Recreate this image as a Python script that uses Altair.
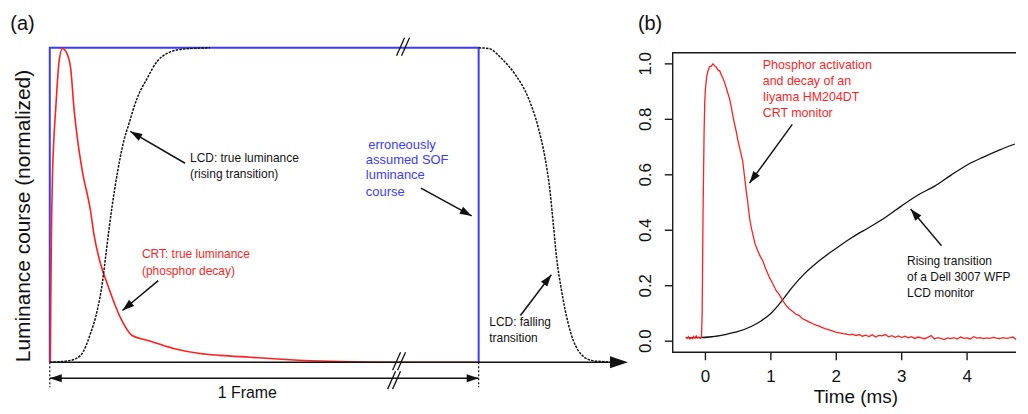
import math
import altair as alt
import pandas as pd

FONT = "Arial, Liberation Sans, Helvetica, sans-serif"
RED = "#ff1f1f"
BLUE = "#3b3bff"
BLACK = "#111111"
AXIS = "#222222"

# ---------------- panel (a): schematic (x in frames, y normalized) ----------------
crt_a_x = [0.0012, 0.0023, 0.0035, 0.0046, 0.0063, 0.0093, 0.0139, 0.0216, 0.0295, 0.0390,
           0.0487, 0.0564, 0.0643, 0.0759, 0.0951, 0.1028, 0.1183, 0.1339, 0.1647, 0.1919,
           0.2267, 0.2884, 0.3503, 0.3968, 0.4664, 0.5500, 0.6520, 0.8140, 1.0000]
crt_a_y = [0.000, 0.196, 0.354, 0.481, 0.598, 0.703, 0.807, 0.956, 0.998, 0.985,
           0.935, 0.808, 0.713, 0.608, 0.481, 0.408, 0.313, 0.250, 0.142, 0.085,
           0.070, 0.044, 0.028, 0.022, 0.016, 0.009, 0.003, 0.000, 0.000]

lcd_rise_x = [0.0000, 0.0487, 0.0719, 0.0951, 0.1107, 0.1223, 0.1299, 0.1376, 0.1455,
              0.1571, 0.1724, 0.1840, 0.2035, 0.2267, 0.2499, 0.2731, 0.3116, 0.3735]
lcd_rise_y = [0.000, 0.006, 0.022, 0.092, 0.165, 0.250, 0.332, 0.418, 0.497,
              0.598, 0.703, 0.756, 0.839, 0.902, 0.956, 0.982, 0.996, 1.000]

lcd_fall_x = [1.0000, 1.0232, 1.0534, 1.0852, 1.1160, 1.1392, 1.1548, 1.1664, 1.1740,
              1.1817, 1.1933, 1.2088, 1.2320, 1.2629, 1.3016]
lcd_fall_y = [1.000, 0.998, 0.966, 0.915, 0.840, 0.745, 0.650, 0.544, 0.440,
              0.333, 0.228, 0.123, 0.038, 0.006, 0.001]

sof_x = [0, 0, 1, 1]
sof_y = [0, 1, 1, 0]

ta_x = [0.327, 0.327, 0.215, 0.215, 0.7425, 0.737, 0.737, 0.737, 1.0248, 1.0248]
ta_y = [0.649, 0.598, 0.344, 0.291, 0.692, 0.642, 0.594, 0.542, 0.1275, 0.0781]
ta_t = ["LCD: true luminance", "(rising transition)",
        "CRT: true luminance", "(phosphor decay)",
        "erroneously", "assumed SOF", "luminance", "course",
        "LCD: falling", "transition"]
ta_c = [BLACK, BLACK, RED, RED, BLUE, BLUE, BLUE, BLUE, BLACK, BLACK]
ta_s = [12, 12, 12, 12, 13, 13, 13, 13, 12, 12]

# annotation arrows (tail -> head)
arr_a = [(0.3155, 0.6329, 0.1879, 0.7342),
         (0.2529, 0.2595, 0.1694, 0.1646),
         (0.8654, 0.5538, 0.9838, 0.4652),
         (1.0974, 0.1487, 1.1694, 0.2785)]

frame_y = -0.0506
tick_bottom = -0.0797
axis_end = 1.348
break_cx = [0.8237, 0.8144, 0.8028]
break_cy = [1.0032, 0.0032, -0.0570]

# ---------------- panel (b): measurements ----------------
crt_b_t = [-0.30, -0.28, -0.26, -0.24, -0.22, -0.20, -0.18, -0.16, -0.14, -0.12, -0.10, -0.08,
           -0.06, -0.05, -0.036, -0.02, -0.01, 0.00, 0.02, 0.04, 0.065, 0.09, 0.115, 0.14,
           0.167, 0.19, 0.218, 0.24, 0.268, 0.29, 0.32, 0.345, 0.37, 0.40, 0.43, 0.47, 0.50,
           0.53, 0.57, 0.60, 0.624, 0.645, 0.674, 0.70, 0.724, 0.76, 0.80, 0.84, 0.876, 0.92,
           0.978, 1.03, 1.08, 1.13, 1.18, 1.23, 1.28, 1.33, 1.38, 1.43, 1.48, 1.53, 1.59, 1.64,
           1.69, 1.74, 1.79, 1.84, 1.89, 1.94, 1.99, 2.05, 2.10, 2.15, 2.20, 2.245,
           2.30, 2.35, 2.40, 2.45, 2.50, 2.55, 2.60, 2.65, 2.70, 2.75, 2.80, 2.85, 2.90, 2.95,
           3.00, 3.05, 3.10, 3.15, 3.20, 3.25, 3.30, 3.35, 3.40, 3.45, 3.50, 3.55, 3.60, 3.65,
           3.70, 3.75, 3.80, 3.85, 3.90, 3.95, 4.00, 4.05, 4.10, 4.15, 4.20, 4.25, 4.30, 4.35,
           4.40, 4.45, 4.50, 4.55, 4.60, 4.65, 4.70, 4.75]
crt_b_y = [0.014, 0.010, 0.016, 0.008, 0.013, 0.009, 0.017, 0.011, 0.019, 0.012, 0.015, 0.010,
           0.014, 0.100, 0.470, 0.760, 0.864, 0.910, 0.955, 0.975, 0.990, 0.992, 1.000, 0.993,
           0.988, 0.978, 0.975, 0.962, 0.948, 0.935, 0.912, 0.892, 0.874, 0.838, 0.800, 0.757,
           0.720, 0.690, 0.649, 0.590, 0.540, 0.505, 0.446, 0.410, 0.386, 0.350, 0.326, 0.305,
           0.290, 0.262, 0.230, 0.207, 0.183, 0.168, 0.147, 0.130, 0.117, 0.108, 0.098, 0.093,
           0.082, 0.076, 0.069, 0.063, 0.058, 0.054, 0.049, 0.044, 0.041, 0.037, 0.033, 0.030,
           0.027, 0.026, 0.023, 0.025,
           0.020, 0.024, 0.018, 0.022, 0.017, 0.023, 0.015, 0.021, 0.019, 0.024, 0.016, 0.020,
           0.014, 0.019, 0.013, 0.018, 0.012, 0.016, 0.010, 0.015, 0.012, 0.009, 0.014, 0.020,
           0.008, 0.013, 0.010, 0.006, 0.012, 0.009, 0.013, 0.008, 0.015, 0.010, 0.012, 0.008,
           0.016, 0.011, 0.013, 0.009, 0.012, 0.010, 0.014, 0.011, 0.009, 0.013, 0.010, 0.012,
           0.015, 0.006]

lcd_b_t = [-0.30, -0.10, 0.10, 0.30, 0.50, 0.70, 0.85, 1.00, 1.15, 1.33, 1.50, 1.74, 2.00,
           2.24, 2.50, 2.75, 3.00, 3.25, 3.51, 3.75, 4.02, 4.25, 4.50, 4.73]
lcd_b_y = [0.013, 0.013, 0.016, 0.024, 0.035, 0.053, 0.073, 0.100, 0.140, 0.195, 0.240, 0.290,
           0.335, 0.374, 0.410, 0.446, 0.488, 0.527, 0.560, 0.598, 0.638, 0.664, 0.690, 0.711]

x_ticks_b = [0, 1, 2, 3, 4]
y_ticks_b = [0.0, 0.2, 0.4, 0.6, 0.8, 1.0]
x_title_b = "Time (ms)"
x_title_pos = 2.3

tb_x = [0.876, 0.876, 0.876, 0.876, 3.082, 3.082, 3.082]
tb_y = [0.996, 0.9385, 0.8796, 0.8222, 0.2876, 0.2302, 0.1742]
tb_t = ["Phosphor activation", "and decay of an", "Iiyama HM204DT", "CRT monitor",
        "Rising transition", "of a Dell 3007 WFP", "LCD monitor"]
tb_c = [RED, RED, RED, RED, BLACK, BLACK, BLACK]
tb_s = [12.5, 12.5, 12.5, 12.5, 12, 12, 12]

arr_b = [(1.328, 0.7817, 0.674, 0.570),
         (3.609, 0.3439, 3.137, 0.4767)]

label_b_x = -1.032
label_b_y = 1.1807
spacer_b_y = 1.1871

# ---------------- layout ----------------
A_W, A_H = 623, 352
A_XD = [-0.0951, 1.3504]
A_YD = [-0.1297, 0.9842]
B_W, B_H = 345, 301
B_XD = [-0.5, 4.748]
B_YD = [-0.04, 1.04]
TICK = 8
LW = 1.4

sxa = A_W / (A_XD[1] - A_XD[0])
sya = A_H / (A_YD[1] - A_YD[0])
sxb = B_W / (B_XD[1] - B_XD[0])
syb = B_H / (B_YD[1] - B_YD[0])

HEAD = "M0,0L-0.4,1.2L0.4,1.2Z"


def ang(x0, y0, x1, y1, sx, sy):
    dx = (x1 - x0) * sx
    dy = -(y1 - y0) * sy
    return math.degrees(math.atan2(dx, -dy)) % 360


def XA(f="x"):
    return alt.X(f"{f}:Q", scale=alt.Scale(domain=A_XD, nice=False, zero=False), axis=None)


def YA(f="y"):
    return alt.Y(f"{f}:Q", scale=alt.Scale(domain=A_YD, nice=False, zero=False), axis=None)


def XB(f="x"):
    return alt.X(f"{f}:Q", scale=alt.Scale(domain=B_XD, nice=False, zero=False), axis=None)


def YB(f="y"):
    return alt.Y(f"{f}:Q", scale=alt.Scale(domain=B_YD, nice=False, zero=False), axis=None)


# ---- panel (a) layers ----
sof = alt.Chart(pd.DataFrame({"x": sof_x, "y": sof_y, "o": range(len(sof_x))})).mark_line(
    color=BLUE, strokeWidth=2).encode(x=XA(), y=YA(), order="o:Q")

crt_a = alt.Chart(pd.DataFrame({"x": crt_a_x, "y": crt_a_y})).mark_line(
    color=RED, strokeWidth=1.6, interpolate="monotone").encode(x=XA(), y=YA())

rise_a = alt.Chart(pd.DataFrame({"x": lcd_rise_x, "y": lcd_rise_y})).mark_line(
    color=BLACK, strokeWidth=1.5, strokeDash=[2.5, 1.2], interpolate="monotone").encode(x=XA(), y=YA())

fall_a = alt.Chart(pd.DataFrame({"x": lcd_fall_x, "y": lcd_fall_y})).mark_line(
    color=BLACK, strokeWidth=1.5, strokeDash=[2.5, 1.2], interpolate="monotone").encode(x=XA(), y=YA())

solid_rules = pd.DataFrame({
    "x": [0, 0] + [a[0] for a in arr_a],
    "y": [0, frame_y] + [a[1] for a in arr_a],
    "x2": [axis_end - 0.01, 1] + [a[2] for a in arr_a],
    "y2": [0, frame_y] + [a[3] for a in arr_a],
})
rules_a = alt.Chart(solid_rules).mark_rule(color=BLACK, strokeWidth=1.5).encode(
    x=XA(), y=YA(), x2="x2:Q", y2="y2:Q")

dotted = pd.DataFrame({"x": [0, 1], "y": [0, 0], "y2": [tick_bottom, tick_bottom]})
dot_a = alt.Chart(dotted).mark_rule(color=BLACK, strokeWidth=1.2, strokeDash=[2, 2]).encode(
    x=XA(), y=YA(), y2="y2:Q")

bx0, by0, bx1, by1 = [], [], [], []
for cx, cy in zip(break_cx, break_cy):
    for off in (-2.5, 2.5):
        bx0.append(cx + (off - 4) / sxa)
        by0.append(cy - 9 / sya)
        bx1.append(cx + (off + 4) / sxa)
        by1.append(cy + 9 / sya)
breaks_a = alt.Chart(pd.DataFrame({"x": bx0, "y": by0, "x2": bx1, "y2": by1})).mark_rule(
    color=BLACK, strokeWidth=1.3).encode(x=XA(), y=YA(), x2="x2:Q", y2="y2:Q")

heads_a_df = pd.DataFrame({
    "x": [a[2] for a in arr_a] + [axis_end, 0, 1],
    "y": [a[3] for a in arr_a] + [0, frame_y, frame_y],
    "ang": [ang(*a, sxa, sya) for a in arr_a] + [90, 270, 90],
    "sz": [400] * len(arr_a) + [900, 400, 400],
})
heads_a = alt.Chart(heads_a_df).mark_point(shape=HEAD, filled=True, color=BLACK, opacity=1,
                                           strokeWidth=0).encode(
    x=XA(), y=YA(), angle=alt.Angle("ang:Q", scale=None), size=alt.Size("sz:Q", scale=None))

text_a = alt.Chart(pd.DataFrame({"x": ta_x, "y": ta_y, "t": ta_t, "c": ta_c, "s": ta_s})).mark_text(
    align="left", baseline="middle", font=FONT).encode(
    x=XA(), y=YA(), text="t:N", color=alt.Color("c:N", scale=None), size=alt.Size("s:Q", scale=None))

frame_label = alt.Chart(pd.DataFrame({"x": [0.4606], "y": [-0.098], "t": ["1 Frame"]})).mark_text(
    align="center", baseline="middle", font=FONT, fontSize=16, color=BLACK).encode(
    x=XA(), y=YA(), text="t:N")

panel_label_a = alt.Chart(pd.DataFrame({"x": [-0.0638], "y": [1.0744], "t": ["(a)"]})).mark_text(
    align="center", baseline="middle", font=FONT, fontSize=20, color=BLACK).encode(
    x=XA(), y=YA(), text="t:N")

ytitle_a = alt.Chart(pd.DataFrame({"x": [-0.0603], "y": [0.465],
                                   "t": ["Luminance course (normalized)"]})).mark_text(
    align="center", baseline="middle", font=FONT, fontSize=21, angle=270, color=BLACK).encode(
    x=XA(), y=YA(), text="t:N")

panel_a = alt.layer(sof, crt_a, rise_a, fall_a, rules_a, dot_a, breaks_a, heads_a,
                    text_a, frame_label, panel_label_a, ytitle_a).properties(width=A_W, height=A_H)

# ---- panel (b) layers ----
# plot box (top, left, bottom) and tick marks as thin filled bars through the panel's scales
rx0, ry0, rx1, ry1 = [], [], [], []


def add_bar(x0, y0, x1, y1):
    rx0.append(x0); ry0.append(y0); rx1.append(x1); ry1.append(y1)


hx = LW / 2 / sxb
hy = LW / 2 / syb
add_bar(B_XD[0], B_YD[1] - hy, B_XD[1], B_YD[1] + hy)
add_bar(B_XD[0] - hx, B_YD[0] - hy, B_XD[0] + hx, B_YD[1] + hy)
add_bar(B_XD[0] - hx, B_YD[0] - hy, B_XD[1], B_YD[0] + hy)
for t in x_ticks_b:
    add_bar(t - hx, B_YD[0] - TICK / syb, t + hx, B_YD[0])
for v in y_ticks_b:
    add_bar(B_XD[0] - TICK / sxb, v - hy, B_XD[0], v + hy)

frame_b = alt.Chart(pd.DataFrame({"x": rx0, "y": ry0, "x2": rx1, "y2": ry1})).mark_rect(
    color="#1a1a1a", opacity=1, strokeWidth=0).encode(x=XB(), y=YB(), x2="x2:Q", y2="y2:Q")

xlab_b = alt.Chart(pd.DataFrame({
    "x": x_ticks_b, "y": [B_YD[0] - 25 / syb] * len(x_ticks_b),
    "t": [str(t) for t in x_ticks_b]})).mark_text(
    align="center", baseline="middle", font=FONT, fontSize=17, color=BLACK).encode(
    x=XB(), y=YB(), text="t:N")

ylab_b = alt.Chart(pd.DataFrame({
    "x": [B_XD[0] - 27 / sxb] * len(y_ticks_b), "y": y_ticks_b,
    "t": [f"{v:.1f}" for v in y_ticks_b]})).mark_text(
    align="center", baseline="middle", font=FONT, fontSize=17, angle=270, color=BLACK).encode(
    x=XB(), y=YB(), text="t:N")

xtitle_b = alt.Chart(pd.DataFrame({"x": [x_title_pos], "y": [B_YD[0] - 44.5 / syb],
                                   "t": [x_title_b]})).mark_text(
    align="center", baseline="middle", font=FONT, fontSize=19, color=BLACK).encode(
    x=XB(), y=YB(), text="t:N")

lcd_b = alt.Chart(pd.DataFrame({"x": lcd_b_t, "y": lcd_b_y})).mark_line(
    color=BLACK, strokeWidth=1.3, interpolate="monotone").encode(x=XB(), y=YB())

crt_b = alt.Chart(pd.DataFrame({"x": crt_b_t, "y": crt_b_y})).mark_line(
    color=RED, strokeWidth=1.3).encode(x=XB(), y=YB())

rules_b = alt.Chart(pd.DataFrame({
    "x": [a[0] for a in arr_b], "y": [a[1] for a in arr_b],
    "x2": [a[2] for a in arr_b], "y2": [a[3] for a in arr_b]})).mark_rule(
    color=BLACK, strokeWidth=1.4).encode(x=XB(), y=YB(), x2="x2:Q", y2="y2:Q")

heads_b = alt.Chart(pd.DataFrame({
    "x": [a[2] for a in arr_b], "y": [a[3] for a in arr_b],
    "ang": [ang(*a, sxb, syb) for a in arr_b], "sz": [400] * len(arr_b)})).mark_point(
    shape=HEAD, filled=True, color=BLACK, opacity=1, strokeWidth=0).encode(
    x=XB(), y=YB(), angle=alt.Angle("ang:Q", scale=None), size=alt.Size("sz:Q", scale=None))

text_b = alt.Chart(pd.DataFrame({"x": tb_x, "y": tb_y, "t": tb_t, "c": tb_c, "s": tb_s})).mark_text(
    align="left", baseline="middle", font=FONT).encode(
    x=XB(), y=YB(), text="t:N", color=alt.Color("c:N", scale=None), size=alt.Size("s:Q", scale=None))

panel_label_b = alt.Chart(pd.DataFrame({"x": [label_b_x], "y": [label_b_y], "t": ["(b)"]})).mark_text(
    align="left", baseline="top", font=FONT, fontSize=20, color=BLACK).encode(
    x=XB(), y=YB(), text="t:N")

spacer_b = alt.Chart(pd.DataFrame({"x": [label_b_x + 0.2], "y": [spacer_b_y]})).mark_point(
    filled=True, size=16, opacity=0, strokeWidth=0).encode(x=XB(), y=YB())

panel_b = alt.layer(lcd_b, crt_b, rules_b, heads_b, text_b, xlab_b, ylab_b, xtitle_b,
                    panel_label_b, spacer_b, frame_b).properties(width=B_W, height=B_H)

chart = alt.hconcat(panel_a, panel_b, spacing=6).properties(
    padding=0, background="white").configure_view(stroke="transparent")

chart.save("out.html", embed_options={"renderer": "svg", "actions": False})
